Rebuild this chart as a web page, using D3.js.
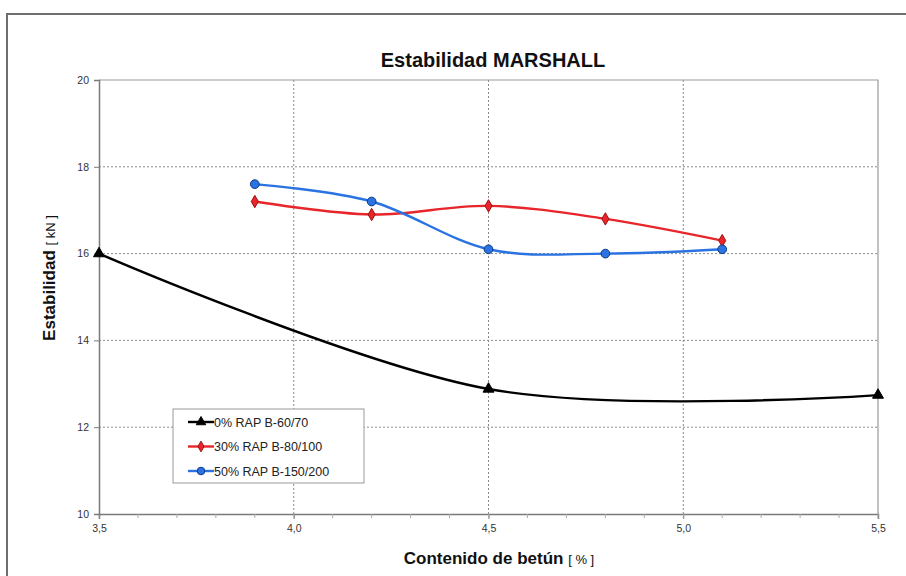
<!DOCTYPE html>
<html><head><meta charset="utf-8">
<script src="https://cdn.jsdelivr.net/npm/d3@7"></script>
<style>body{margin:0;background:#fff}svg{display:block;font-family:"Liberation Sans",Arial,sans-serif}</style>
</head><body><svg id="c" width="906" height="576"></svg>
<script>
const xTicks = [3.5, 4.0, 4.5, 5.0, 5.5];
const yTicks = [10, 12, 14, 16, 18, 20];
const seriesNames = ["0% RAP B-60/70", "30% RAP B-80/100", "50% RAP B-150/200"];
const x0 = [3.5, 4.5, 5.5];
const y0 = [16.0, 12.88, 12.74];
const x30 = [3.9, 4.2, 4.5, 4.8, 5.1];
const y30 = [17.2, 16.9, 17.1, 16.8, 16.3];
const x50 = [3.9, 4.2, 4.5, 4.8, 5.1];
const y50 = [17.6, 17.2, 16.1, 16.0, 16.1];

const svg = d3.select("#c");
const L = 99, R = 878, T = 80, B = 514;
const x = d3.scaleLinear().domain([3.5, 5.5]).range([L, R]);
const y = d3.scaleLinear().domain([10, 20]).range([B, T]);

// outer frame
svg.append("path").attr("d", `M7,576 V14 H906`).attr("fill","none").attr("stroke","#6e6e6e").attr("stroke-width",2);

// grid
const g = svg.append("g");
g.selectAll(".hg").data(yTicks.filter(d => d > 10 && d < 20)).join("line")
  .attr("x1", L).attr("x2", R).attr("y1", d => y(d)).attr("y2", d => y(d))
  .attr("stroke", "#8a8a8a").attr("stroke-dasharray", "2,2").attr("stroke-width", 1);
g.selectAll(".vg").data(xTicks.filter(d => d > 3.5 && d < 5.5)).join("line")
  .attr("y1", T).attr("y2", B).attr("x1", d => x(d)).attr("x2", d => x(d))
  .attr("stroke", "#8a8a8a").attr("stroke-dasharray", "2,2").attr("stroke-width", 1);
// plot border top/right
svg.append("path").attr("d", `M${L},${T} H${R} V${B}`).attr("fill","none").attr("stroke","#9a9a9a").attr("stroke-width",1.2);

// axes
const xAxis = d3.axisBottom(x).tickValues(xTicks).tickSize(5).tickPadding(6)
  .tickFormat(d => d3.format(".1f")(d).replace(".", ","));
const gx = svg.append("g").attr("transform", `translate(0,${B})`).call(xAxis);
// minor ticks
const minor = d3.range(35, 56).map(v => v / 10);
svg.append("g").selectAll("line").data(minor).join("line")
  .attr("x1", d => x(d)).attr("x2", d => x(d)).attr("y1", B).attr("y2", B + 4)
  .attr("stroke", "#aaa");
const yAxis = d3.axisLeft(y).tickValues(yTicks).tickSize(5).tickPadding(5);
const gy = svg.append("g").attr("transform", `translate(${L},0)`).call(yAxis);
[gx, gy].forEach(a => {
  a.select(".domain").attr("stroke", "#7a7a7a").attr("stroke-width", 1.5);
  a.selectAll(".tick line").attr("stroke", "#7a7a7a");
  a.selectAll("text").attr("fill", "#333").attr("font-size", 10.5).attr("font-family", "Liberation Sans, Arial, sans-serif");
});

// titles
svg.append("text").attr("x", 493).attr("y", 67).attr("text-anchor", "middle")
  .attr("font-size", 20).attr("font-weight", "bold").attr("fill", "#111").text("Estabilidad MARSHALL");
const xt = svg.append("text").attr("x", 499).attr("y", 564).attr("text-anchor", "middle").attr("fill", "#111");
xt.append("tspan").attr("font-size", 17).attr("font-weight", "bold").text("Contenido de betún ");
xt.append("tspan").attr("font-size", 13).text("[ % ]");
const yt = svg.append("text").attr("transform", "translate(55,278) rotate(-90)").attr("text-anchor", "middle").attr("fill", "#111");
yt.append("tspan").attr("font-size", 17).attr("font-weight", "bold").text("Estabilidad ");
yt.append("tspan").attr("font-size", 13).text("[ kN ]");

// series
const line = d3.line().x(d => x(d[0])).y(d => y(d[1])).curve(d3.curveCatmullRom.alpha(0));
const series = [
  { name: seriesNames[0], pts: d3.zip(x0, y0), color: "#000", stroke: "#000", sym: d3.symbolTriangle, size: 52 },
  { name: seriesNames[1], pts: d3.zip(x30, y30), color: "#e8252a", stroke: "#a01010", sym: d3.symbolDiamond, size: 44 },
  { name: seriesNames[2], pts: d3.zip(x50, y50), color: "#2a73e0", stroke: "#0e3a8a", sym: d3.symbolCircle, size: 60 }
];
series.forEach(s => {
  svg.append("path").datum(s.pts).attr("d", line).attr("fill", "none")
    .attr("stroke", s.color).attr("stroke-width", 2.4);
  svg.append("g").selectAll("path").data(s.pts).join("path")
    .attr("d", d3.symbol().type(s.sym).size(s.size))
    .attr("transform", d => `translate(${x(d[0])},${y(d[1])})`)
    .attr("fill", s.color).attr("stroke", s.stroke).attr("stroke-width", 1);
});

// legend
const lg = svg.append("g");
lg.append("rect").attr("x", 173).attr("y", 409).attr("width", 191).attr("height", 74)
  .attr("fill", "#fff").attr("stroke", "#9a9a9a").attr("stroke-width", 1);
series.forEach((s, i) => {
  const yy = 422 + i * 24.5;
  lg.append("line").attr("x1", 188).attr("x2", 214).attr("y1", yy).attr("y2", yy)
    .attr("stroke", s.color).attr("stroke-width", 2.4);
  lg.append("path").attr("d", d3.symbol().type(s.sym).size(s.size * 0.75)).attr("transform", `translate(201,${yy})`)
    .attr("fill", s.color).attr("stroke", s.stroke);
  lg.append("text").attr("x", 214).attr("y", yy + 4.5).attr("font-size", 12.5).attr("fill", "#222").text(s.name);
});
</script></body></html>
